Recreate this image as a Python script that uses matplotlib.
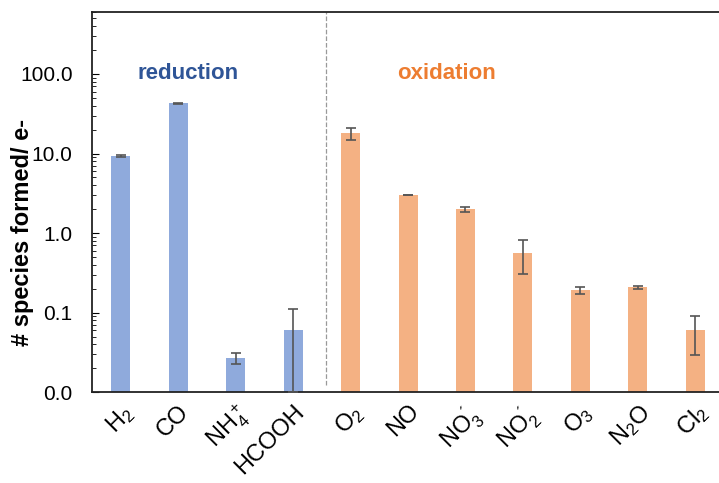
import matplotlib.pyplot as plt
from matplotlib.ticker import FuncFormatter, LogLocator

plt.rcParams['font.family'] = ['Liberation Sans', 'DejaVu Sans']
plt.rcParams['mathtext.default'] = 'regular'

species = ['H$_2$', 'CO', 'NH$_4^+$', 'HCOOH', 'O$_2$', 'NO', 'NO$_3^{\u00b4}$',
           'NO$_2^{\u00b4}$', 'O$_3$', 'N$_2$O', 'Cl$_2$']
values = [9.3, 42.8, 0.027, 0.060, 17.9, 3.0, 1.99, 0.565, 0.192, 0.209, 0.060]
errors = [0.15, 0.8, 0.0043, 0.05, 3.0, 0.03, 0.15, 0.26, 0.021, 0.009, 0.031]
groups = ['red'] * 4 + ['ox'] * 7

blue = '#8FAADC'
orange = '#F4B183'

fig = plt.figure(figsize=(7.19, 4.83), dpi=100)
ax = fig.add_axes([0.128, 0.188, 0.875, 0.787])

x = list(range(len(species)))
colors = [blue if g == 'red' else orange for g in groups]
ax.bar(x, values, width=0.33, color=colors, zorder=2)
ax.errorbar(x, values, yerr=errors, fmt='none', ecolor='#555555',
            elinewidth=1.2, capsize=3.3, capthick=1.2, zorder=3)

ax.set_yscale('log')
ax.set_ylim(0.01, 600)
ax.set_xlim(-0.5, 10.45)
ax.yaxis.set_major_locator(LogLocator(base=10, numticks=10))
ax.yaxis.set_minor_locator(LogLocator(base=10, subs=range(2, 10), numticks=10))
ax.yaxis.set_major_formatter(FuncFormatter(lambda v, p: '%.1f' % v))
ax.yaxis.set_minor_formatter(FuncFormatter(lambda v, p: ''))
ax.tick_params(axis='y', which='major', direction='in', length=5, labelsize=15, pad=14)
ax.tick_params(axis='y', which='minor', direction='in', length=3)
ax.tick_params(axis='x', length=0, labelsize=17, pad=6)

ax.set_xticks(x)
ax.set_xticklabels(species, rotation=45, ha='right', rotation_mode='anchor')

ax.axvline(3.58, ymin=0.02, ymax=1, color='#999999', linestyle='--', linewidth=0.9)

ax.text(1.17, 100, 'reduction', color='#2F5597', fontsize=16, fontweight='bold',
        ha='center', va='center')
ax.text(5.67, 100, 'oxidation', color='#ED7D31', fontsize=16, fontweight='bold',
        ha='center', va='center')

ax.set_ylabel('# species formed/ e-', fontsize=17, fontweight='bold')
ax.yaxis.set_label_coords(-0.093, 0.42)

for s in ['left', 'bottom', 'top']:
    ax.spines[s].set_color('#222222')
    ax.spines[s].set_linewidth(1.3)
ax.spines['right'].set_visible(False)

fig.savefig('out.png', dpi=100)
